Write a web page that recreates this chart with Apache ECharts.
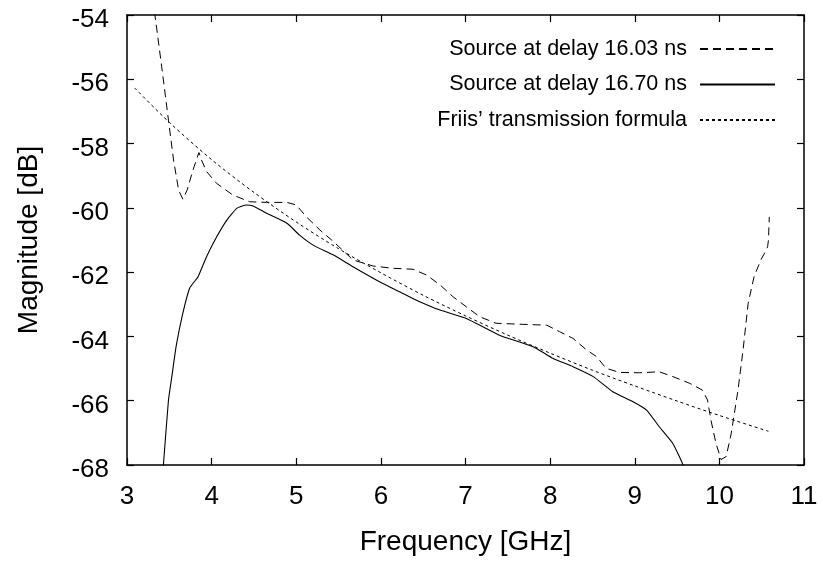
<!DOCTYPE html>
<html>
<head>
<meta charset="utf-8">
<script src="https://cdn.jsdelivr.net/npm/echarts@6/dist/echarts.min.js"></script>
<style>
  html, body { margin: 0; padding: 0; background: #fff; }
  #chart { width: 823px; height: 563px; }
</style>
</head>
<body>
<div id="chart"></div>
<script>
// ---- data ----
const seriesNames = [
  "Source at delay 16.03 ns",
  "Source at delay 16.70 ns",
  "Friis\u2019 transmission formula"
];
const xTicks = [3, 4, 5, 6, 7, 8, 9, 10, 11];
const yTicks = [-68, -66, -64, -62, -60, -58, -56, -54];

// [frequency GHz, magnitude dB]
const delay1603 = [
  [3.20,-51.5],[3.28,-53.0],[3.33,-54.0],[3.41,-55.61],[3.49,-57.27],[3.55,-58.51],
  [3.61,-59.45],[3.66,-59.73],[3.71,-59.45],[3.78,-58.82],[3.85,-58.28],[3.88,-58.51],
  [3.94,-58.87],[4.06,-59.24],[4.25,-59.60],[4.45,-59.81],[4.65,-59.83],[4.89,-59.83],
  [5.00,-59.91],[5.12,-60.28],[5.28,-60.69],[5.44,-61.05],[5.67,-61.62],[5.91,-61.81],
  [6.14,-61.88],[6.38,-61.91],[6.54,-62.09],[6.70,-62.40],[6.85,-62.76],[7.01,-63.08],
  [7.17,-63.39],[7.36,-63.59],[7.64,-63.62],[7.96,-63.65],[8.11,-63.85],[8.27,-64.06],
  [8.43,-64.42],[8.55,-64.63],[8.66,-64.99],[8.82,-65.12],[9.06,-65.13],[9.29,-65.10],
  [9.45,-65.25],[9.65,-65.46],[9.80,-65.67],[9.86,-65.98],[9.90,-66.60],[9.96,-67.33],
  [10.02,-67.83],[10.08,-67.74],[10.14,-67.02],[10.22,-65.67],[10.28,-64.42],[10.34,-62.97],
  [10.41,-62.14],[10.49,-61.62],[10.55,-61.33],[10.57,-61.21],[10.58,-61.0],[10.59,-60.28]
];
const delay1670 = [
  [3.40,-68.8],[3.43,-68.0],[3.49,-65.98],[3.53,-65.25],[3.58,-64.32],[3.65,-63.39],
  [3.74,-62.50],[3.84,-62.14],[3.94,-61.52],[4.06,-60.90],[4.18,-60.38],[4.30,-60.01],
  [4.41,-59.91],[4.49,-59.94],[4.65,-60.17],[4.89,-60.48],[5.04,-60.85],[5.20,-61.16],
  [5.44,-61.47],[5.67,-61.83],[6.00,-62.32],[6.22,-62.61],[6.46,-62.92],[6.70,-63.18],
  [7.01,-63.44],[7.40,-63.96],[7.80,-64.32],[8.03,-64.68],[8.27,-64.94],[8.51,-65.25],
  [8.74,-65.72],[8.98,-66.03],[9.14,-66.29],[9.29,-66.81],[9.45,-67.33],[9.57,-68.0],
  [9.62,-68.6]
];
const friis = [
  [3.09,-56.27],[3.5,-57.34],[4.0,-58.50],[4.5,-59.52],[5.0,-60.44],[5.5,-61.27],
  [6.0,-62.02],[6.5,-62.72],[7.0,-63.36],[7.5,-63.96],[8.0,-64.52],[8.5,-65.05],
  [9.0,-65.54],[9.5,-66.01],[10.0,-66.46],[10.58,-66.95]
];

// ---- chart ----
const FONT = '"Liberation Sans", Arial, Helvetica, sans-serif';
const chart = echarts.init(document.getElementById('chart'), null, { renderer: 'canvas' });

function xAxisCfg(pos, labels) {
  return {
    type: 'value', position: pos, min: xTicks[0], max: xTicks[xTicks.length - 1], interval: 1,
    name: labels ? 'Frequency [GHz]' : '',
    nameLocation: 'middle', nameGap: 63,
    nameTextStyle: { fontFamily: FONT, fontSize: 28, color: '#000' },
    axisLine: { show: true, onZero: false, lineStyle: { color: '#000', width: 1.5 } },
    axisTick: { show: true, inside: true, length: 7, lineStyle: { color: '#000', width: 1.2 } },
    axisLabel: { show: labels, fontFamily: FONT, fontSize: 26, color: '#000', margin: 19 },
    splitLine: { show: false }
  };
}
function yAxisCfg(pos, labels) {
  return {
    type: 'value', position: pos, min: yTicks[0], max: yTicks[yTicks.length - 1], interval: 2,
    name: labels ? 'Magnitude [dB]' : '',
    nameLocation: 'middle', nameGap: 84, nameRotate: 90,
    nameTextStyle: { fontFamily: FONT, fontSize: 28, color: '#000' },
    axisLine: { show: true, onZero: false, lineStyle: { color: '#000', width: 1.5 } },
    axisTick: { show: true, inside: true, length: 7, lineStyle: { color: '#000', width: 1.2 } },
    axisLabel: { show: labels, fontFamily: FONT, fontSize: 26, color: '#000', margin: 18,
                 verticalAlign: 'top', lineHeight: 10 },
    splitLine: { show: false }
  };
}

chart.setOption({
  animation: false,
  backgroundColor: '#fff',
  grid: { left: 127, right: 19, top: 15, bottom: 98, containLabel: false },
  xAxis: [xAxisCfg('bottom', true), xAxisCfg('top', false)],
  yAxis: [yAxisCfg('left', true), yAxisCfg('right', false)],
  legend: {
    orient: 'vertical', right: 42, top: 33, align: 'right',
    itemWidth: 75, itemHeight: 14, itemGap: 13.5,
    itemStyle: { opacity: 0 },
    textStyle: { fontFamily: FONT, fontSize: 21.5, color: '#000', padding: [0, 8, 0, 0] },
    data: seriesNames
  },
  series: [
    {
      name: seriesNames[0], type: 'line', data: delay1603, symbol: 'none',
      lineStyle: { color: '#000', width: 1, type: [8, 5] }, itemStyle: { color: '#000' },
      clip: true, z: 3
    },
    {
      name: seriesNames[1], type: 'line', data: delay1670, symbol: 'none', smooth: 0.15,
      lineStyle: { color: '#000', width: 1.1, type: 'solid' }, itemStyle: { color: '#000' },
      clip: true, z: 2
    },
    {
      name: seriesNames[2], type: 'line', data: friis, symbol: 'none', smooth: 0.3,
      lineStyle: { color: '#000', width: 1, type: [3, 3] }, itemStyle: { color: '#000' },
      clip: true, z: 1
    }
  ]
});
</script>
</body>
</html>
